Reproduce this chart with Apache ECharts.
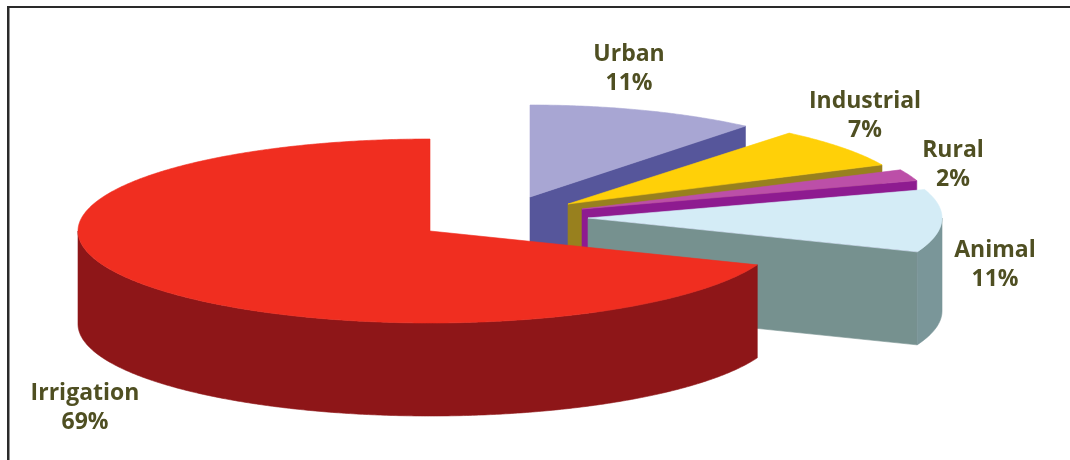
<!DOCTYPE html>
<html>
<head>
<meta charset="utf-8">
<style>
  html, body { margin: 0; padding: 0; background: #fff; }
  #chart { width: 1070px; height: 460px; }
</style>
<script src="https://cdn.jsdelivr.net/npm/echarts@6/dist/echarts.min.js"></script>
</head>
<body>
<div id="chart"></div>
<script>
// Water use by sector, in percent
const categories = ['Urban', 'Industrial', 'Rural', 'Animal', 'Irrigation'];
const shares = [11, 7, 2, 11, 69];

// Fill colours of each wedge: top face, radial cut face, rim
const topColors = ['#A8A6D3', '#FFD008', '#BC4FA8', '#D4ECF6', '#F02E20'];
const cutColors = ['#56569B', '#98801E', '#8E1B90', '#76918F', '#8E1618'];
const rimColors = ['#56569B', '#98801E', '#8E1B90', '#7A9699', '#8E1618'];

// Exploded wedge apexes, horizontal radius, and label anchors
const apexX = [530, 568, 582, 588, 430];
const apexY = [197, 204, 209, 218, 231];
const radiusX = [338, 347, 352, 354, 352];
const labelX = [629, 865, 953, 995, 85];
const labelY = [69, 116, 165, 265, 408];

const RADIUS_Y = 92;
const DEPTH = 93;
const TEXT_COLOR = '#4F4F22';
const total = shares.reduce((a, b) => a + b, 0);

// Screen position of an angle (degrees clockwise from 12 o'clock) on a wedge's rim
function rimPoint(i, deg, drop) {
  const r = deg * Math.PI / 180;
  return [
    apexX[i] + radiusX[i] * Math.sin(r),
    apexY[i] - RADIUS_Y * Math.cos(r) + drop
  ];
}

function arcPoints(i, from, to, drop) {
  const steps = Math.max(2, Math.ceil(Math.abs(to - from) * 2));
  const pts = [];
  for (let s = 0; s <= steps; s++) {
    pts.push(rimPoint(i, from + (to - from) * s / steps, drop));
  }
  return pts;
}

function polygon(points, fill, stroke) {
  return {
    type: 'polygon',
    shape: { points },
    style: { fill, stroke: stroke || fill, lineWidth: 0.6 }
  };
}

function cutFace(i, deg, fill) {
  const apex = [apexX[i], apexY[i]];
  const edge = rimPoint(i, deg, 0);
  return polygon([
    apex, edge,
    [edge[0], edge[1] + DEPTH],
    [apex[0], apex[1] + DEPTH]
  ], fill);
}

function renderWedge(params, api) {
  const i = params.dataIndex;
  const share = api.value(0);
  const before = api.value(1);
  const start = before / total * 360;
  const end = (before + share) / total * 360;
  const children = [];

  // Radial faces that turn toward the viewer
  if (Math.sin(start * Math.PI / 180) < 0) children.push(cutFace(i, start, cutColors[i]));
  if (Math.sin(end * Math.PI / 180) > 0) children.push(cutFace(i, end, cutColors[i]));

  // Outer wall, only along the near half of the ellipse
  const wallFrom = Math.max(start, 90);
  const wallTo = Math.min(end, 270);
  if (wallTo > wallFrom) {
    const upper = arcPoints(i, wallFrom, wallTo, 0);
    const lower = arcPoints(i, wallTo, wallFrom, DEPTH);
    children.push(polygon(upper.concat(lower), rimColors[i]));
  }

  // Top face
  const top = [[apexX[i], apexY[i]]].concat(arcPoints(i, start, end, 0));
  children.push(polygon(top, topColors[i]));

  // Name and percentage
  children.push({
    type: 'text',
    style: {
      x: labelX[i],
      y: labelY[i],
      text: categories[i] + '\n' + share + '%',
      fill: TEXT_COLOR,
      font: '700 23px "Open Sans"',
      lineHeight: 29,
      align: 'center',
      verticalAlign: 'middle'
    }
  });
  return { type: 'group', children };
}

let running = 0;
const wedges = categories.map((name, i) => {
  const item = { name, value: [shares[i], running] };
  running += shares[i];
  return item;
});

const chart = echarts.init(document.getElementById('chart'), null, { renderer: 'canvas' });
chart.setOption({
  backgroundColor: '#ffffff',
  animation: false,
  // Frame along the top and left of the panel
  graphic: [
    { type: 'rect', shape: { x: 7, y: 6, width: 1063, height: 2 }, style: { fill: '#2A2A2A' }, silent: true },
    { type: 'rect', shape: { x: 7, y: 6, width: 2.5, height: 454 }, style: { fill: '#2A2A2A' }, silent: true }
  ],
  series: [{
    type: 'custom',
    coordinateSystem: 'none',
    silent: true,
    renderItem: renderWedge,
    data: wedges
  }]
});
</script>
</body>
</html>
